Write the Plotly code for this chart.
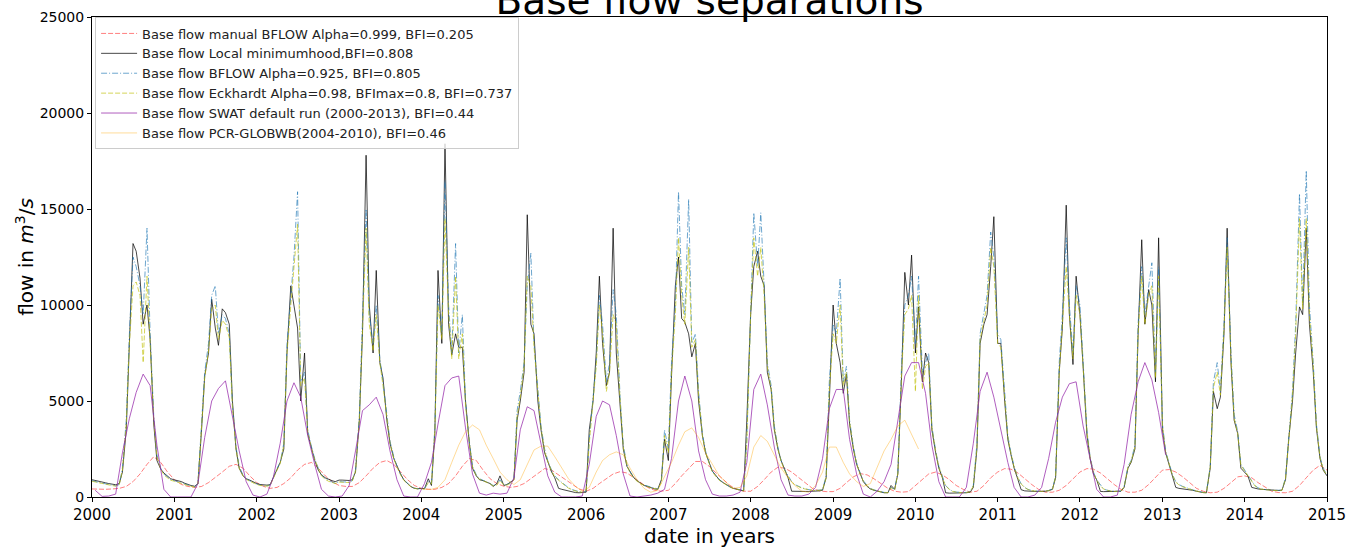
import pandas as pd
import plotly.graph_objects as go

# ---------------- data ----------------
# semi-monthly grid 2000-01-01 ... 2015-01-01 (1st and 15th of every month)
dates_semi = pd.date_range("2000-01-01", "2015-01-01", freq="SMS")

local_min = [
    900, 870, 820, 780, 740, 700, 650, 640, 700, 1300, 3500, 8000, 13200, 12800, 11400, 9000, 10000, 8200, 3800, 1900, 1450, 1250, 1100, 950,
    890, 850, 800, 720, 650, 600, 560, 700, 3500, 6300, 7500, 10300, 8800, 7900, 9800, 9600, 9000, 5000, 2500, 1500, 1100, 950, 880, 780,
    700, 650, 620, 620, 640, 1000, 1500, 1800, 2500, 7500, 11000, 10000, 8800, 5000, 7500, 3300, 2500, 1900, 1400, 1150, 1000, 920, 850, 800,
    880, 880, 870, 860, 900, 1300, 4000, 8500, 17800, 10000, 7500, 11800, 7000, 6200, 4000, 2800, 2000, 1600, 1200, 900, 700, 550, 450, 430,
    450, 430, 950, 600, 3300, 11800, 8000, 18400, 9000, 7400, 8500, 7800, 7800, 5000, 2800, 1500, 1100, 900, 850, 800, 700, 550, 700, 1100,
    600, 650, 800, 900, 4000, 5000, 6500, 14700, 9000, 8500, 5000, 3500, 2300, 1800, 1300, 1000, 450, 400, 350, 300, 250, 230, 220, 220,
    250, 3500, 5000, 7500, 11500, 8000, 5800, 6500, 14000, 7500, 5000, 2500, 1600, 1300, 1000, 850, 700, 600, 550, 480, 420, 400, 900, 3000,
    1900, 6300, 11000, 12500, 9300, 9100, 8500, 7300, 8000, 5000, 3200, 2300, 1800, 1350, 1100, 900, 750, 630, 530, 450, 390, 350, 320, 4000,
    9500, 12000, 12800, 11500, 11000, 6500, 5600, 3500, 2500, 1900, 1400, 1000, 300, 290, 290, 290, 290, 290, 290, 300, 320, 350, 1000, 5000,
    10000, 8000, 7000, 5400, 6400, 3800, 2500, 1700, 1200, 800, 550, 420, 350, 300, 250, 220, 220, 600, 400, 1200, 6400, 11700, 10000, 12600,
    7500, 9900, 6000, 7500, 7000, 3500, 2300, 1500, 1000, 220, 200, 200, 200, 200, 210, 220, 250, 500, 2500, 8000, 9000, 9500, 12000, 14600,
    8000, 8000, 5000, 3000, 2200, 1500, 900, 380, 320, 300, 290, 290, 290, 290, 300, 330, 400, 1000, 6500, 8800, 15200, 9500, 6900, 11500,
    9500, 6800, 3200, 2000, 1200, 900, 290, 280, 280, 280, 280, 290, 300, 500, 1500, 1800, 2500, 8500, 13400, 9000, 10800, 10000, 6000, 13500,
    3500, 2300, 1600, 1100, 500, 450, 430, 420, 400, 350, 300, 250, 230, 220, 1500, 5500, 4600, 5200, 8500, 14000, 7000, 4000, 3300, 1500,
    1300, 1100, 500, 450, 420, 400, 380, 360, 350, 340, 340, 350, 900, 3000, 5000, 7500, 9900, 9500, 14000, 9000, 6500, 3600, 2000, 1400,
    1100,
]

bflow_925 = [
    850, 800, 760, 720, 690, 650, 600, 580, 650, 1500, 4000, 8500, 12500, 12000, 11000, 9500, 14000, 8500, 4200, 2200, 1500, 1200, 1050, 900,
    850, 800, 740, 680, 620, 560, 520, 700, 3800, 6500, 8000, 10500, 11000, 8500, 9500, 9300, 8500, 4800, 2600, 1600, 1150, 950, 850, 750,
    680, 620, 580, 580, 620, 1000, 1500, 1800, 2800, 8000, 10500, 12500, 15900, 6000, 6500, 3500, 2600, 2000, 1500, 1150, 950, 850, 780, 720,
    800, 790, 780, 770, 850, 1400, 4200, 9000, 15000, 9500, 8000, 10000, 7200, 6000, 4200, 2900, 2100, 1600, 1200, 900, 700, 560, 470, 430,
    440, 420, 800, 700, 3600, 10500, 8500, 16500, 10000, 7500, 13200, 7500, 9500, 5000, 2900, 1600, 1150, 950, 870, 800, 700, 600, 650, 900,
    650, 650, 750, 950, 4500, 5500, 7000, 11000, 12700, 8000, 5500, 3700, 2500, 1900, 1400, 1100, 900, 750, 600, 480, 380, 320, 280, 260,
    300, 3000, 5200, 7000, 10500, 9000, 6000, 7000, 10800, 9500, 5200, 2700, 1700, 1300, 1000, 850, 700, 620, 560, 500, 440, 420, 800, 3500,
    2500, 7000, 10000, 15900, 11000, 9500, 15500, 8000, 8500, 5500, 3300, 2400, 1800, 1350, 1100, 900, 750, 640, 540, 460, 400, 360, 330, 3000,
    10000, 14800, 12000, 14800, 11000, 7000, 5800, 3700, 2600, 1900, 1400, 1100, 800, 650, 550, 480, 420, 380, 350, 340, 350, 380, 1100, 6000,
    9000, 8500, 11400, 6000, 6800, 4000, 2600, 1800, 1250, 850, 600, 450, 370, 320, 270, 240, 230, 500, 400, 1300, 7000, 10000, 10500, 11500,
    8000, 11500, 6500, 7000, 7500, 3700, 2400, 1600, 1000, 600, 400, 300, 260, 240, 230, 240, 280, 600, 2800, 8500, 9500, 10500, 13800, 12500,
    8500, 8200, 5500, 3200, 2300, 1600, 1000, 700, 500, 400, 340, 310, 300, 300, 310, 340, 420, 1100, 7000, 9500, 13500, 10000, 7500, 11000,
    10000, 7000, 3500, 2100, 1300, 900, 600, 420, 350, 320, 300, 300, 320, 550, 1600, 1900, 2700, 9000, 12000, 9500, 11000, 12200, 6500, 12000,
    3800, 2400, 1700, 1150, 800, 650, 550, 480, 420, 370, 320, 270, 240, 230, 1600, 6000, 7000, 5500, 9000, 13500, 7500, 4300, 3400, 1700,
    1400, 1150, 800, 600, 480, 420, 390, 370, 360, 350, 350, 360, 1000, 3200, 5500, 9000, 15800, 10000, 17000, 10000, 7000, 3800, 2100, 1500,
    1150,
]

eckhardt = [
    820, 780, 740, 700, 670, 630, 590, 570, 640, 1400, 3800, 8000, 11000, 11200, 10500, 7000, 11500, 8000, 4000, 2100, 1450, 1150, 1000, 870,
    820, 780, 720, 660, 600, 550, 510, 680, 3600, 6200, 7600, 9800, 10000, 8200, 9200, 9000, 8300, 4700, 2500, 1500, 1100, 920, 820, 730,
    660, 600, 570, 570, 600, 950, 1450, 1750, 2700, 7500, 10000, 12000, 14200, 5800, 6200, 3400, 2500, 1950, 1450, 1100, 920, 820, 760, 700,
    780, 770, 760, 750, 830, 1350, 4000, 8800, 14000, 9000, 7600, 9500, 7000, 5800, 4000, 2800, 2000, 1550, 1150, 870, 680, 540, 460, 420,
    430, 410, 750, 680, 3400, 10000, 8200, 14500, 9500, 7200, 11500, 7200, 8500, 4800, 2800, 1550, 1100, 920, 850, 780, 680, 580, 620, 850,
    620, 620, 720, 900, 4200, 5200, 6800, 11500, 11000, 7800, 5300, 3600, 2400, 1850, 1350, 1050, 870, 720, 580, 460, 370, 310, 270, 250,
    280, 2800, 5000, 6800, 10000, 8500, 5500, 6500, 9500, 9000, 5000, 2600, 1650, 1250, 980, 820, 680, 600, 540, 480, 430, 410, 750, 3200,
    2300, 6500, 9500, 13500, 10500, 9000, 13000, 7800, 8200, 5300, 3200, 2300, 1750, 1300, 1050, 870, 730, 620, 520, 450, 390, 350, 320, 2800,
    9500, 13500, 11500, 13000, 10500, 6800, 5600, 3600, 2500, 1850, 1350, 1050, 780, 630, 530, 460, 410, 370, 340, 330, 340, 370, 1000, 5500,
    8500, 8000, 10000, 5800, 6500, 3900, 2500, 1750, 1200, 820, 580, 440, 360, 310, 260, 230, 220, 480, 380, 1200, 6500, 9500, 9800, 10500,
    5500, 10500, 5600, 6800, 7000, 3600, 2350, 1550, 980, 580, 390, 290, 250, 230, 220, 230, 270, 580, 2600, 8200, 9200, 10000, 13000, 12000,
    8000, 7800, 5200, 3100, 2250, 1550, 980, 680, 490, 390, 330, 300, 290, 290, 300, 330, 400, 1050, 6500, 9000, 12000, 9500, 7200, 10500,
    9500, 6800, 3400, 2050, 1250, 880, 580, 410, 340, 310, 290, 290, 310, 530, 1550, 1850, 2600, 8500, 11500, 9000, 10500, 11000, 6200, 11500,
    3700, 2350, 1650, 1120, 780, 630, 530, 470, 410, 360, 310, 260, 230, 220, 1550, 5700, 6500, 5300, 8700, 13000, 7200, 4100, 3300, 1650,
    1350, 1120, 780, 580, 470, 410, 380, 360, 350, 340, 340, 350, 950, 3100, 5300, 8500, 14500, 9800, 14500, 9500, 6800, 3700, 2050, 1450,
    1120,
]

# monthly grid (1st of month) 2000-01 ... 2015-01
dates_month = pd.date_range("2000-01-01", "2015-01-01", freq="MS")
manual_bflow = [
    420, 400, 400, 420, 450, 550, 800, 1200, 1700, 2100, 1800, 1300,
    900, 650, 550, 500, 550, 750, 1000, 1300, 1600, 1700, 1500, 1100,
    750, 550, 450, 500, 700, 1000, 1400, 1700, 1800, 1500, 1100, 800,
    600, 550, 550, 750, 1100, 1500, 1800, 1900, 1700, 1300, 900, 600,
    450, 400, 400, 500, 700, 1100, 1600, 2000, 1900, 1400, 950, 700,
    560, 500, 550, 700, 950, 1250, 1480, 1400, 1150, 900, 650, 420,
    300, 450, 700, 950, 1200, 1320, 1250, 1000, 750, 500, 350, 300,
    350, 700, 1100, 1500, 1850, 1850, 1600, 1250, 900, 600, 400, 300,
    300, 550, 900, 1300, 1550, 1500, 1300, 1000, 700, 450, 320, 280,
    280, 450, 750, 1050, 1220, 1150, 950, 700, 450, 300, 250, 280,
    600, 950, 1200, 1300, 1150, 900, 600, 400, 250, 300, 600, 1000,
    1300, 1480, 1450, 1250, 950, 650, 400, 250, 250, 350, 600, 950,
    1300, 1480, 1450, 1250, 950, 650, 400, 250, 250, 350, 650, 1000,
    1400, 1430, 1300, 1050, 750, 450, 300, 220, 250, 450, 750, 1050,
    1100, 1000, 750, 500, 300, 230, 220, 300, 600, 1000, 1400, 1650,
    1400,
]

# SWAT monthly output (mid-month), 2000-01 ... 2013-01
swat = [
    350, 30, 50, 150, 2300, 4100, 5450, 6400, 5800, 2700, 400, 0,
    0, 0, 0, 700, 3100, 5000, 5650, 6050, 4100, 2400, 800, 100,
    0, 150, 1000, 2800, 5000, 5950, 5200, 3200, 1700, 400, 50, 0,
    50, 600, 2400, 4500, 4800, 5200, 4300, 2400, 900, 50, 0, 0,
    700, 1800, 3800, 5800, 6200, 6300, 3600, 1200, 200, 100, 200, 150,
    200, 1000, 3500, 4700, 4500, 2700, 1100, 250, 0, 0, 0, 50,
    1700, 4200, 5000, 4800, 3200, 1200, 50, 0, 50, 100, 200, 400,
    2000, 5000, 6300, 5000, 2400, 900, 150, 50, 50, 100, 250, 1800,
    5600, 6400, 4800, 2600, 900, 100, 50, 50, 150, 500, 2000, 4600,
    5600, 5600, 3000, 1200, 150, 0, 300, 800, 1700, 4000, 6300, 7000,
    7000, 5400, 2700, 800, 0, 0, 0, 500, 2800, 5500, 6500, 5200,
    3500, 1800, 500, 0, 0, 100, 500, 2000, 3900, 5200, 5900, 6000,
    3700, 2000, 400, 0, 0, 100, 1700, 4300, 6000, 7000, 6100, 4400,
    2200,
]
dates_swat = pd.date_range("2000-01-01", periods=len(swat), freq="MS") + pd.Timedelta(days=14)

# PCR-GLOBWB monthly output (mid-month), 2004-01 ... 2010-01
pcr = [
    400, 400, 500, 900, 1800, 2700, 3400, 3750, 3500, 2700, 2000, 1300,
    900, 650, 900, 1700, 2450, 2650, 2650, 2100, 1500, 950, 550, 300,
    500, 1300, 1900, 2200, 2350, 2200, 1500, 900, 450, 250, 350, 1100,
    1800, 2700, 3400, 3600, 3100, 2300, 1700, 1100, 750, 450, 500, 1100,
    2600, 3200, 2900, 2200, 1500, 1000, 600, 300, 250, 600, 1300, 2600,
    2600, 1800, 1200, 800, 550, 700, 1500, 2400, 3000, 3700, 4000, 3300,
    2500,
]
dates_pcr = pd.date_range("2004-01-01", periods=len(pcr), freq="MS") + pd.Timedelta(days=14)

names = [
    "Base flow manual BFLOW Alpha=0.999, BFI=0.205",
    "Base flow Local minimumhood,BFI=0.808",
    "Base flow BFLOW Alpha=0.925, BFI=0.805",
    "Base flow Eckhardt Alpha=0.98, BFImax=0.8, BFI=0.737",
    "Base flow SWAT default run (2000-2013), BFI=0.44",
    "Base flow PCR-GLOBWB(2004-2010), BFI=0.46",
]
year_ticks = [str(y) for y in range(2000, 2016)]
flow_ticks = [0, 5000, 10000, 15000, 20000, 25000]

# ---------------- figure ----------------
FONT = "DejaVu Sans"
fig = go.Figure()
fig.add_trace(go.Scatter(x=dates_month, y=manual_bflow, mode="lines", name=names[0],
                         line=dict(color="rgba(255,0,0,0.5)", width=1, dash="5px,2px")))
fig.add_trace(go.Scatter(x=dates_semi, y=local_min, mode="lines", name=names[1],
                         line=dict(color="rgba(0,0,0,0.8)", width=0.9)))
fig.add_trace(go.Scatter(x=dates_semi, y=bflow_925, mode="lines", name=names[2],
                         line=dict(color="rgba(31,119,180,0.65)", width=1, dash="6px,2px,1px,2px")))
fig.add_trace(go.Scatter(x=dates_semi, y=eckhardt, mode="lines", name=names[3],
                         line=dict(color="rgba(191,191,0,0.65)", width=1, dash="5px,2px")))
fig.add_trace(go.Scatter(x=dates_swat, y=swat, mode="lines", name=names[4],
                         line=dict(color="rgba(150,40,170,0.75)", width=1)))
fig.add_trace(go.Scatter(x=dates_pcr, y=pcr, mode="lines", name=names[5],
                         line=dict(color="rgba(255,165,0,0.4)", width=1)))

fig.update_layout(
    width=1366, height=549,
    margin=dict(l=92, r=39, t=17, b=52),
    paper_bgcolor="white", plot_bgcolor="white",
    font=dict(family=FONT, color="black"),
    title=dict(text="Base flow separations", x=0.5, xref="paper", xanchor="center",
               y=1.0, yref="container", yanchor="middle",
               font=dict(size=39, family=FONT, color="black")),
    showlegend=True,
    legend=dict(x=0.0025, y=0.999, xanchor="left", yanchor="top",
                bgcolor="rgba(255,255,255,0.8)", bordercolor="#cccccc", borderwidth=1,
                font=dict(size=13, family=FONT, color="#222222"), itemwidth=36,
                tracegroupgap=0),
)
fig.update_xaxes(
    range=["2000-01-01", "2015-01-01"],
    tickvals=pd.to_datetime([y + "-01-01" for y in year_ticks]), ticktext=year_ticks,
    ticks="outside", ticklen=4, tickcolor="black", tickfont=dict(size=15, family=FONT),
    showline=True, linecolor="black", linewidth=1, mirror=True, showgrid=False, zeroline=False,
    automargin=False,
    title=dict(text="date in years", font=dict(size=20, family=FONT), standoff=3),
)
fig.update_yaxes(
    range=[0, 25000], tickvals=flow_ticks, ticktext=[str(v) for v in flow_ticks],
    ticks="outside", ticklen=4, tickcolor="black", tickfont=dict(size=14, family=FONT),
    showline=True, linecolor="black", linewidth=1, mirror=True, showgrid=False, zeroline=False,
    automargin=False,
    title=dict(text="flow in <i>m</i><sup>3</sup>/<i>s</i>", font=dict(size=20, family=FONT), standoff=0),
)

fig.write_html("out.html")
